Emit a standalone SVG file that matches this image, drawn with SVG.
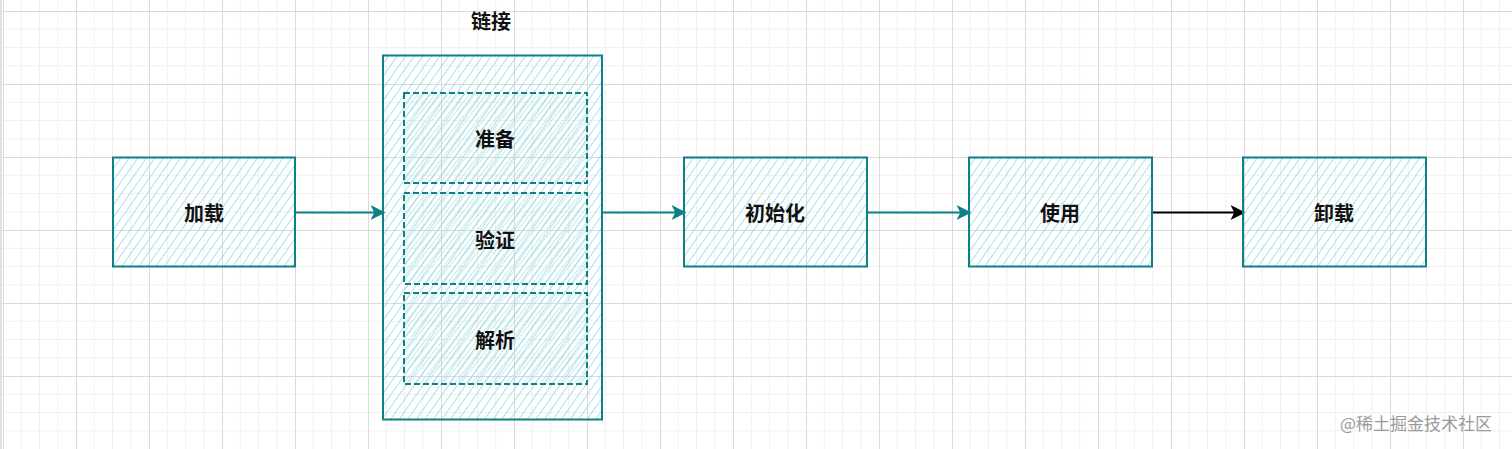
<svg xmlns="http://www.w3.org/2000/svg" width="1512" height="449" viewBox="0 0 1512 449">
<defs>
<pattern id="grid" patternUnits="userSpaceOnUse" x="3" y="11" width="73" height="73">
<path d="M18.25 0V73M36.5 0V73M54.75 0V73M0 18.25H73M0 36.5H73M0 54.75H73" stroke="#f0f0f0" stroke-width="1" fill="none"/>
<path d="M0.5 0V73M0 0.5H73" stroke="#dadada" stroke-width="1" fill="none"/>
</pattern>
<pattern id="hatch" patternUnits="userSpaceOnUse" width="7" height="7" patternTransform="rotate(35)">
<line x1="0" y1="0" x2="0" y2="7" stroke="#8fd8dc" stroke-width="1.5"/>
</pattern>
<pattern id="hatch2" patternUnits="userSpaceOnUse" width="4.5" height="4.5" patternTransform="rotate(38)">
<line x1="0" y1="0" x2="0" y2="4.5" stroke="#9adcdf" stroke-width="1.2"/>
</pattern>
<marker id="ah" viewBox="0 0 10 10" refX="9" refY="5" markerWidth="15" markerHeight="15" markerUnits="userSpaceOnUse" orient="auto">
<path d="M0 0L10 5L0 10L2.5 5Z" fill="#0e8088"/>
</marker>
<marker id="ahk" viewBox="0 0 10 10" refX="9" refY="5" markerWidth="15" markerHeight="15" markerUnits="userSpaceOnUse" orient="auto">
<path d="M0 0L10 5L0 10L2.5 5Z" fill="#000"/>
</marker>
</defs>
<style>
.box{fill:url(#hatch);stroke:#0e8088;stroke-width:2}
.inner{fill:url(#hatch2);stroke:#0e8088;stroke-width:2;stroke-dasharray:6 3}
.lbl{font-family:"Noto Sans CJK SC","Noto Sans",sans-serif;font-size:20px;font-weight:bold;fill:#111;text-anchor:middle;dominant-baseline:central}
.edge{stroke:#0e8088;stroke-width:1.8;fill:none;marker-end:url(#ah)}
.edgek{stroke:#000;stroke-width:1.8;fill:none;marker-end:url(#ahk)}
</style>
<rect width="1512" height="449" fill="#fff"/>
<rect width="1512" height="449" fill="url(#grid)"/>
<rect x="0" y="0" width="2" height="449" fill="#e0e0e0"/>
<g id="connectors">
<path class="edge" d="M295 212.5H384"/>
<path class="edge" d="M602 212.5H685"/>
<path class="edge" d="M867 212.5H970"/>
<path class="edgek" d="M1152 212.5H1244"/>
</g>
<g id="node-load">
<rect class="box" x="113" y="157.5" width="182" height="109"/>
<text class="lbl" x="204" y="212">加载</text>
</g>
<g id="node-link">
<rect class="box" x="383" y="55.5" width="219" height="364"/>
<text class="lbl" x="491" y="20">链接</text>
</g>
<g id="node-prepare">
<rect class="inner" x="404" y="93" width="183" height="90"/>
<text class="lbl" x="495" y="138">准备</text>
</g>
<g id="node-verify">
<rect class="inner" x="404" y="193" width="183" height="91"/>
<text class="lbl" x="495" y="239">验证</text>
</g>
<g id="node-resolve">
<rect class="inner" x="404" y="293" width="183" height="91"/>
<text class="lbl" x="495" y="339">解析</text>
</g>
<g id="node-init">
<rect class="box" x="684" y="157.5" width="183" height="109"/>
<text class="lbl" x="775" y="212">初始化</text>
</g>
<g id="node-use">
<rect class="box" x="969" y="157.5" width="183" height="109"/>
<text class="lbl" x="1060" y="212">使用</text>
</g>
<g id="node-unload">
<rect class="box" x="1243" y="157.5" width="183" height="109"/>
<text class="lbl" x="1334" y="212">卸载</text>
</g>
<text x="1416" y="430" font-family="'Noto Sans CJK SC','Noto Sans',sans-serif" font-size="17" fill="#9a9a9a" text-anchor="middle">@稀土掘金技术社区</text>
</svg>
